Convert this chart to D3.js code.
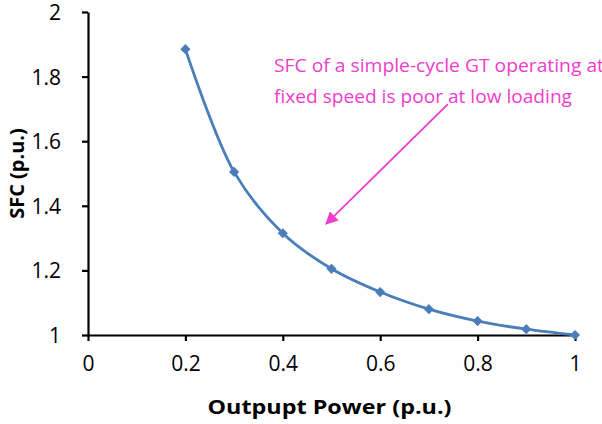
<!DOCTYPE html>
<html>
<head>
<meta charset="utf-8">
<script src="https://cdn.jsdelivr.net/npm/d3@7"></script>
<style>
  body { margin: 0; background: #fff; }
  text { font-family: "Open Sans", "Liberation Sans", sans-serif; }
</style>
</head>
<body>
<div id="chart"></div>
<script>
// data
const load = [0.2, 0.3, 0.4, 0.5, 0.6, 0.7, 0.8, 0.9, 1.0];
const sfc = [1.885, 1.505, 1.315, 1.205, 1.133, 1.08, 1.043, 1.018, 1.0];
const xTicks = [0, 0.2, 0.4, 0.6, 0.8, 1];
const yTicks = [1, 1.2, 1.4, 1.6, 1.8, 2];
const noteLines = ['SFC of a simple-cycle GT operating at', 'fixed speed is poor at low loading'];

const width = 602, height = 424;
const margin = { top: 12, right: 27, bottom: 89, left: 88 };

const svg = d3.select('#chart')
  .append('svg')
  .attr('width', width)
  .attr('height', height);

const x = d3.scaleLinear().domain([0, 1]).range([margin.left, width - margin.right]);
const y = d3.scaleLinear().domain([1, 2]).range([height - margin.bottom, margin.top]);

// axes
const xAxis = svg.append('g')
  .attr('transform', 'translate(0,' + y(1) + ')')
  .call(d3.axisBottom(x).tickValues(xTicks).tickSize(6).tickSizeOuter(0).tickFormat(d3.format('')));
const yAxis = svg.append('g')
  .attr('transform', 'translate(' + x(0) + ',0)')
  .call(d3.axisLeft(y).tickValues(yTicks).tickSize(6).tickSizeOuter(0).tickFormat(d3.format('')));

[xAxis, yAxis].forEach(g => {
  g.select('.domain').attr('stroke', '#000').attr('stroke-width', 2.2);
  g.selectAll('.tick line').attr('stroke', '#000').attr('stroke-width', 2.2);
  g.selectAll('.tick text').attr('fill', '#000').style('font-size', '21px');
});
xAxis.selectAll('.tick text').attr('y', 0).attr('dy', '1.7em');
yAxis.selectAll('.tick text').attr('x', -27).attr('dy', '0.36em');

// axis titles
svg.append('text')
  .attr('x', (x(0) + x(1)) / 2 - 2)
  .attr('y', 414)
  .attr('text-anchor', 'middle')
  .style('font-size', '20px')
  .style('font-weight', 'bold')
  .attr('textLength', 244)
  .attr('lengthAdjust', 'spacingAndGlyphs')
  .text('Outpupt Power (p.u.)');

svg.append('text')
  .attr('transform', 'translate(24,' + ((y(1) + y(2)) / 2) + ') rotate(-90)')
  .attr('text-anchor', 'middle')
  .style('font-size', '20px')
  .style('font-weight', 'bold')
  .text('SFC (p.u.)');

// series
const pts = load.map((d, i) => ({ x: d, y: sfc[i] }));
const line = d3.line()
  .x(d => x(d.x))
  .y(d => y(d.y))
  .curve(d3.curveCatmullRom);

svg.append('path')
  .datum(pts)
  .attr('d', line)
  .attr('fill', 'none')
  .attr('stroke', '#4a7ebb')
  .attr('stroke-width', 2.8);

svg.selectAll('.marker')
  .data(pts)
  .enter()
  .append('path')
  .attr('class', 'marker')
  .attr('d', d3.symbol().type(d3.symbolSquare).size(52))
  .attr('transform', d => 'translate(' + x(d.x) + ',' + y(d.y) + ') rotate(45)')
  .attr('fill', '#4a7ebb');

// annotation
const pink = '#f03ccc';
svg.append('defs').append('marker')
  .attr('id', 'head')
  .attr('viewBox', '0 0 10 10')
  .attr('refX', 9).attr('refY', 5)
  .attr('markerWidth', 7).attr('markerHeight', 7)
  .attr('markerUnits', 'strokeWidth')
  .attr('orient', 'auto')
  .append('path')
  .attr('d', 'M0,0 L10,5 L0,10 Z')
  .attr('fill', pink);

svg.append('line')
  .attr('x1', x(0.739)).attr('y1', y(1.715))
  .attr('x2', x(0.489)).attr('y2', y(1.344))
  .attr('stroke', pink)
  .attr('stroke-width', 1.8)
  .attr('marker-end', 'url(#head)');

svg.selectAll('.note')
  .data(noteLines)
  .enter()
  .append('text')
  .attr('class', 'note')
  .attr('x', 274)
  .attr('y', (d, i) => 72 + i * 31)
  .attr('fill', pink)
  .style('font-size', '19px')
  .attr('textLength', (d, i) => i === 0 ? 330 : 298)
  .attr('lengthAdjust', 'spacingAndGlyphs')
  .text(d => d);
</script>
</body>
</html>
